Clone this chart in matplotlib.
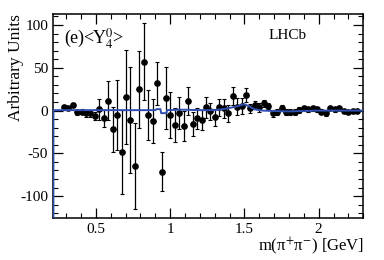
import numpy as np
import matplotlib
matplotlib.use("Agg")
import matplotlib.pyplot as plt
from matplotlib.ticker import MultipleLocator

plt.rcParams['font.family'] = ['Liberation Serif', 'DejaVu Serif']
plt.rcParams['mathtext.fontset'] = 'stix'

# bin centres in m(pi+ pi-) [GeV]
mass = np.linspace(0.285, 2.258, 67)

# <Y_4^0> moment values and errors
moment = [3.7, 2.6, 6.4, -2.0, -1.4, -3.3, -3.3, -6.4, 1.4, -9.0,
          11.5, -22.0, -5.0, -48.0, 16.0, -11.0, -65.0, 25.0, 57.0, -5.0,
          -12.0, 32.0, -71.5, 14.6, -5.0, -17.0, -3.0, -18.0, 11.0, -16.0,
          -9.0, -11.0, 3.7, -0.6, -8.0, 3.7, 2.6, -3.3, 17.0, 4.4,
          5.3, 18.0, 2.6, 6.4, 3.7, 8.4, 5.3, -3.3, -1.4, 2.6,
          -1.4, -1.4, -1.4, 0.6, 2.6, 1.4, 2.6, 1.4, -1.4, -3.3,
          2.6, 1.4, 2.6, -0.6, -1.4, -0.6, -0.2]
error = [2.5, 2.0, 2.5, 3.0, 3.0, 4.0, 4.0, 5.0, 12.0, 10.0,
         23.0, 26.0, 41.0, 49.0, 55.0, 62.0, 50.0, 45.0, 45.0, 29.0,
         26.0, 25.0, 23.0, 36.0, 27.0, 20.0, 19.0, 17.0, 16.0, 14.0,
         12.0, 12.0, 12.0, 10.0, 10.0, 10.0, 11.0, 10.0, 11.0, 10.0,
         9.0, 8.0, 5.0, 5.0, 5.0, 4.0, 4.0, 4.0, 3.5, 3.5,
         3.5, 3.5, 3.5, 3.0, 3.0, 3.0, 3.0, 3.0, 3.0, 2.5,
         2.5, 2.5, 2.5, 2.0, 2.0, 2.0, 2.0]

# fit projection (blue curve)
fit_mass = [0.2145, 0.2150, 0.4, 0.6, 0.8, 0.9, 0.91, 0.935, 0.94, 0.975, 0.98,
            1.05, 1.1, 1.2, 1.3, 1.35, 1.4, 1.45, 1.5, 1.53, 1.57, 1.62,
            1.7, 1.8, 1.9, 2.0, 2.2, 2.3]
fit_value = [-200, 0.5, 0.5, 0.5, 0.5, 0.5, 1.7, 1.7, -3.0, -3.0, 0.5,
             1.0, 1.0, 0.5, 0.5, 1.5, 3.0, 5.0, 7.5, 5.0, 1.5, 0.0,
             -0.5, -1.0, -0.5, 0.0, 0.0, 0.0]

fig = plt.figure(figsize=(3.84, 2.6), dpi=100)
ax = fig.add_axes([0.138, 0.160, 0.808, 0.785])

ax.plot(fit_mass, fit_value, color='#2f4fb0', lw=1.4, zorder=4)
ax.errorbar(mass, moment, yerr=error, fmt='o', color='black', ms=3.8,
            elinewidth=0.9, capsize=1.2, capthick=0.8, zorder=3)

ax.set_xlim(0.212, 2.30)
ax.set_ylim(-126, 112.5)

ax.xaxis.set_major_locator(MultipleLocator(0.5))
ax.xaxis.set_minor_locator(MultipleLocator(0.1))
ax.yaxis.set_major_locator(MultipleLocator(50))
ax.yaxis.set_minor_locator(MultipleLocator(10))
ax.tick_params(which='both', direction='in', top=True, right=True, labelsize=11)
ax.tick_params(which='major', length=7, width=0.9)
ax.tick_params(which='minor', length=3.5, width=0.8)
for s in ax.spines.values():
    s.set_linewidth(1.1)

ax.set_xticks([0.5, 1, 1.5, 2])
ax.set_xticklabels(['0.5', '1', '1.5', '2'])
ax.set_yticks([-100, -50, 0, 50, 100])
ax.set_yticklabels(['-100', '-50', '0', '50', '100'])

ax.set_ylabel('Arbitrary Units', fontsize=12.5, loc='top')
ax.yaxis.set_label_coords(-0.092, 1.0, transform=ax.transAxes)
fig.text(0.948, 0.035, r'm(π$^{+}$π$^{-}$) [GeV]', ha='right', va='baseline', fontsize=12)

ax.text(0.035, 0.94, r'(e)<Y$^{0}_{4}$>', transform=ax.transAxes, fontsize=13, va='top')
ax.text(0.695, 0.93, 'LHCb', transform=ax.transAxes, fontsize=11, va='top')

fig.savefig('out.png', dpi=100)
